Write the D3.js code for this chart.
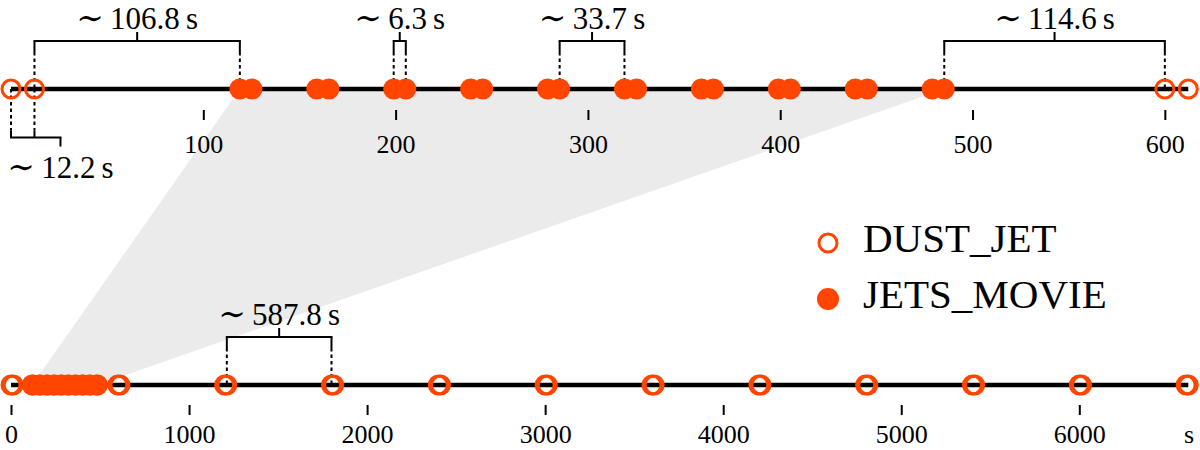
<!DOCTYPE html>
<html>
<head>
<meta charset="utf-8">
<script src="https://cdn.jsdelivr.net/npm/d3@7"></script>
<style>
  html, body { margin: 0; padding: 0; background: #fff; }
  svg { display: block; }
  svg text { font-family: "Liberation Serif", "Times New Roman", Tinos, "DejaVu Serif", "Noto Serif", Times, serif; fill: #000; }
</style>
</head>
<body>
<svg id="chart" width="1200" height="450"></svg>
<script>
// ---------- data ----------
const dustJet = [0, 12.2, 600, 612.2, 1200, 1212.2, 1800, 1812.2, 2400, 2412.2,
  3000, 3012.2, 3600, 3612.2, 4200, 4212.2, 4800, 4812.2, 5400, 5412.2,
  6000, 6012.2, 6600, 6612.2];
const jetsMovie = [119.0, 125.3, 159.0, 165.3, 199.0, 205.3, 239.0, 245.3,
  279.0, 285.3, 319.0, 325.3, 359.0, 365.3, 399.0, 405.3, 439.0, 445.3,
  479.0, 485.3];
const topDomain = [0, 612.2];
const topTicks = [100, 200, 300, 400, 500, 600];
const bottomTicks = [0, 1000, 2000, 3000, 4000, 5000, 6000];
const unitLabel = "s";
const seriesNames = ["DUST_JET", "JETS_MOVIE"];
// gaps (intervals) annotated with braces
const gapAxis  = ["top", "top", "top", "top", "top", "bottom"];
const gapFrom  = [0, 12.2, 199.0, 285.3, 485.3, 1212.2];
const gapTo    = [12.2, 119.0, 205.3, 319.0, 600, 1800];
const gapLabel = ["12.2", "106.8", "6.3", "33.7", "114.6", "587.8"];

// ---------- layout ----------
const FONT = "'Liberation Serif', 'Times New Roman', Tinos, 'DejaVu Serif', 'Noto Serif', Times, serif";
const svg = d3.select("#chart");
const orange = "#ff4500";
const yTop = 89, yBot = 385;
const xTop = d3.scaleLinear().domain(topDomain).range([11, 1188.3]);
const xBot = d3.scaleLinear().domain([0, d3.max(dustJet)]).range([11, 1188.3]);

// zoom connector (shaded)
const ext = d3.extent(jetsMovie);
svg.append("path")
  .attr("d", d3.line()([
    [xTop(ext[0]), yTop], [xTop(ext[1]), yTop],
    [xBot(ext[1]), yBot], [xBot(ext[0]), yBot]
  ]) + "Z")
  .attr("fill", "#ebebeb");

// ---------- gap braces ----------
const gaps = gapFrom.map((d, i) => ({axis: gapAxis[i], a: d, b: gapTo[i], label: gapLabel[i]}));
const annG = svg.append("g").attr("stroke", "#000").attr("fill", "none");
gaps.forEach((g, i) => {
  const sc = g.axis === "top" ? xTop : xBot;
  const yAxis = g.axis === "top" ? yTop : yBot;
  const x1 = sc(g.a), x2 = sc(g.b);
  const below = (i === 0);
  if (!below) {
    const yH = g.axis === "top" ? 41 : 337;
    const yS = yH + 11;
    const xm = (x1 + x2) / 2;
    [x1, x2].forEach(x => {
      annG.append("line").attr("x1", x).attr("x2", x).attr("y1", yH).attr("y2", yS).attr("stroke-width", 2);
      annG.append("line").attr("x1", x).attr("x2", x).attr("y1", yS).attr("y2", yAxis)
        .attr("stroke-width", 2).attr("stroke-dasharray", "3.5,3");
    });
    annG.append("line").attr("x1", x1 - 1).attr("x2", x2 + 1).attr("y1", yH).attr("y2", yH).attr("stroke-width", 2);
    annG.append("line").attr("x1", xm).attr("x2", xm).attr("y1", yH).attr("y2", yH - 9).attr("stroke-width", 2);
    addLabel(xm, yH - 12.5, g.label);
  } else {
    const yH = 137.5, yS = yH - 7;
    const xm = x2 + 26;
    [x1, x2].forEach(x => {
      annG.append("line").attr("x1", x).attr("x2", x).attr("y1", yS).attr("y2", yH).attr("stroke-width", 2);
      annG.append("line").attr("x1", x).attr("x2", x).attr("y1", yAxis).attr("y2", yS)
        .attr("stroke-width", 2).attr("stroke-dasharray", "3.5,3");
    });
    annG.append("line").attr("x1", x1 - 1).attr("x2", xm + 1).attr("y1", yH).attr("y2", yH).attr("stroke-width", 2);
    annG.append("line").attr("x1", xm).attr("x2", xm).attr("y1", yH).attr("y2", yH + 9).attr("stroke-width", 2);
    addLabel(xm, 178, g.label);
  }
});

function addLabel(x, y, num) {
  const t = svg.append("text").attr("x", x).attr("y", y)
    .attr("text-anchor", "middle")
    .style("font-family", FONT)
    .style("font-size", "31px");
  t.append("tspan").style("font-size", "33px").text("\u223C");
  t.append("tspan").text("\u2009" + num + "\u2009" + unitLabel);
}

// ---------- axes ----------
function drawAxis(scale, y, tickVals, tickY, labelY) {
  svg.append("line")
    .attr("x1", scale.range()[0]).attr("x2", scale.range()[1])
    .attr("y1", y).attr("y2", y)
    .attr("stroke", "#000").attr("stroke-width", 4.5);
  const ax = svg.append("g").attr("transform", `translate(0,${tickY})`)
    .call(d3.axisBottom(scale).tickValues(tickVals).tickSize(10).tickFormat(d3.format("d")));
  ax.select(".domain").remove();
  ax.selectAll(".tick line").attr("stroke", "#000").attr("stroke-width", 2);
  ax.selectAll(".tick text")
    .attr("y", labelY - tickY).attr("dy", null)
    .attr("fill", "#000")
    .style("font-family", FONT)
    .style("font-size", "26px");
  return ax;
}
drawAxis(xTop, yTop, topTicks, 110, 153);
drawAxis(xBot, yBot, bottomTicks, 405, 443);
svg.append("text").attr("x", 1184).attr("y", 443)
  .style("font-family", FONT).style("font-size", "26px").text(unitLabel);

// ---------- points ----------
function drawPoints(scale, y, filter) {
  svg.append("g").selectAll("circle").data(jetsMovie.filter(filter)).join("circle")
    .attr("cx", d => scale(d)).attr("cy", y).attr("r", 10.5).attr("fill", orange);
  svg.append("g").selectAll("circle").data(dustJet.filter(filter)).join("circle")
    .attr("cx", d => scale(d)).attr("cy", y).attr("r", 9)
    .attr("fill", "none").attr("stroke", orange).attr("stroke-width", 3);
}
drawPoints(xTop, yTop, d => d <= topDomain[1]);
drawPoints(xBot, yBot, d => true);

// ---------- legend ----------
const lg = svg.append("g");
lg.append("circle").attr("cx", 828).attr("cy", 243).attr("r", 9)
  .attr("fill", "none").attr("stroke", orange).attr("stroke-width", 3);
lg.append("circle").attr("cx", 828).attr("cy", 299).attr("r", 11).attr("fill", orange);
lg.append("text").attr("x", 863).attr("y", 252).style("font-family", FONT).style("font-size", "41px").text(seriesNames[0]);
lg.append("text").attr("x", 863).attr("y", 308).style("font-family", FONT).style("font-size", "41px").text(seriesNames[1]);
</script>
</body>
</html>
